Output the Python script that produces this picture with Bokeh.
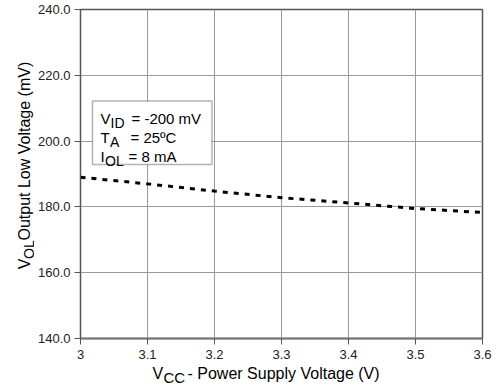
from bokeh.plotting import figure
from bokeh.models import (Range1d, FixedTicker, PrintfTickFormatter, Label, BoxAnnotation)
from bokeh.layouts import row, column
from bokeh.core.properties import value
from bokeh.embed import file_html
from bokeh.resources import INLINE
import math

# ---- data ----
vcc = [3.0, 3.1, 3.2, 3.3, 3.4, 3.5, 3.6]
vol_mv = [189.0, 187.0, 184.8, 182.8, 181.2, 179.5, 178.3]
x_ticks = [3.0, 3.1, 3.2, 3.3, 3.4, 3.5, 3.6]
x_tick_labels = ["3", "3.1", "3.2", "3.3", "3.4", "3.5", "3.6"]
y_ticks = [140, 160, 180, 200, 220, 240]

# ---- page geometry (pixels) ----
W, H = 496, 391
L, R, T, B = 80, 14, 9, 53      # frame borders on the page
LS, BS = 34, 25                 # left / bottom label strips
X0, X1 = 3.0, 3.6
Y0, Y1 = 140.0, 240.0
FW = W - L - R
FH = H - T - B

def dx(px):
    return X0 + (px - L) / FW * (X1 - X0)

def dy(py):
    return Y1 - (py - T) / FH * (Y1 - Y0)

FONT = "Liberation Sans"

p = figure(width=W - LS, height=H - BS, output_backend="svg", toolbar_location=None,
           x_range=Range1d(X0, X1), y_range=Range1d(Y0, Y1),
           min_border_left=L - LS, min_border_right=R, min_border_top=T,
           min_border_bottom=(H - BS) - (H - B))
p.background_fill_color = "white"
p.border_fill_color = "white"
p.outline_line_color = "#555555"
p.outline_line_width = 1.5

p.xaxis.ticker = FixedTicker(ticks=x_ticks)
p.xaxis.major_label_overrides = {t: s for t, s in zip(x_ticks, x_tick_labels)}
p.yaxis.ticker = FixedTicker(ticks=y_ticks)
p.yaxis.formatter = PrintfTickFormatter(format="%.1f")
p.xgrid.ticker = FixedTicker(ticks=x_ticks)
p.ygrid.ticker = FixedTicker(ticks=y_ticks)
p.grid.grid_line_color = "#9a9a9a"
p.grid.grid_line_width = 1
p.grid.grid_line_alpha = 1

for ax in (p.xaxis[0], p.yaxis[0]):
    ax.major_label_text_font = FONT
    ax.major_label_text_font_size = "13px"
    ax.major_label_text_color = "#222222"
    ax.minor_tick_line_color = None
    ax.major_tick_in = 0
    ax.major_tick_out = 6
    ax.major_tick_line_color = "#555555"
    ax.axis_line_color = "#555555"
    ax.major_label_standoff = 5
p.yaxis.major_label_standoff = 4
p.xaxis.axis_line_width = 2
p.xaxis.axis_line_color = "#777777"

p.line(vcc, vol_mv, line_color="black", line_width=3, line_dash="5 6")

def lab(px, py, text, size="15px"):
    p.add_layout(Label(x=dx(px), y=dy(py), text=text, text_font=FONT,
                       text_font_size=size, text_color="black",
                       text_baseline="alphabetic", text_align="left"))

# condition box
p.add_layout(BoxAnnotation(left=dx(92), right=dx(211.5), top=dy(100.5), bottom=dy(164),
                           fill_color="white", fill_alpha=1.0,
                           line_color="black", line_width=1.5))
lab(100, 117.5, "V")
lab(110, 122.5, "ID", "14px")
lab(131, 117.5, "= -200 mV")
lab(100, 136.5, "T")
lab(109.5, 141.5, "A", "14px")
lab(130, 136.5, "= 25\u00baC")
lab(100, 155.5, "I")
lab(104.5, 160.5, "OL", "14px")
lab(128, 155.5, "= 8 mA")

def strip(w, h):
    s = figure(width=w, height=h, output_backend="svg", toolbar_location=None,
               x_range=Range1d(0, w), y_range=Range1d(0, h),
               x_axis_location=None, y_axis_location=None, title_location=None,
               min_border=0, min_border_left=0, min_border_right=0,
               min_border_top=0, min_border_bottom=0)
    s.outline_line_color = None
    s.background_fill_color = "white"
    s.border_fill_color = "white"
    s.xgrid.visible = False
    s.ygrid.visible = False
    return s

def stext(s, ox, oy, px, py, text, size, angle=0.0):
    # px, py are page pixels; (ox, oy) is the strip's top-left on the page
    h = s.height
    s.text(x=[px - ox], y=[h - (py - oy)], text=[text], angle=angle,
           text_font=value(FONT), text_font_size=value(size), text_color="black",
           text_baseline="alphabetic", text_align="left")

# left strip: y axis label (rotated)
ls = strip(LS, H - BS)
ang = math.pi / 2
stext(ls, 0, 0, 24, 289, "V", "16px", ang)
stext(ls, 0, 0, 28, 277.5, "OL", "14px", ang)
stext(ls, 0, 0, 24, 257, " Output Low Voltage (mV)", "16px", ang)

# bottom strip: x axis label (full width)
bs = strip(W, BS)
stext(bs, 0, H - BS, 152, 373, "V", "16px")
stext(bs, 0, H - BS, 163, 377, "CC", "15px")
stext(bs, 0, H - BS, 187, 373, " - Power Supply Voltage (V)", "16px")

layout = column(row(ls, p), bs)
open("out.html", "w").write(file_html(layout, INLINE))
